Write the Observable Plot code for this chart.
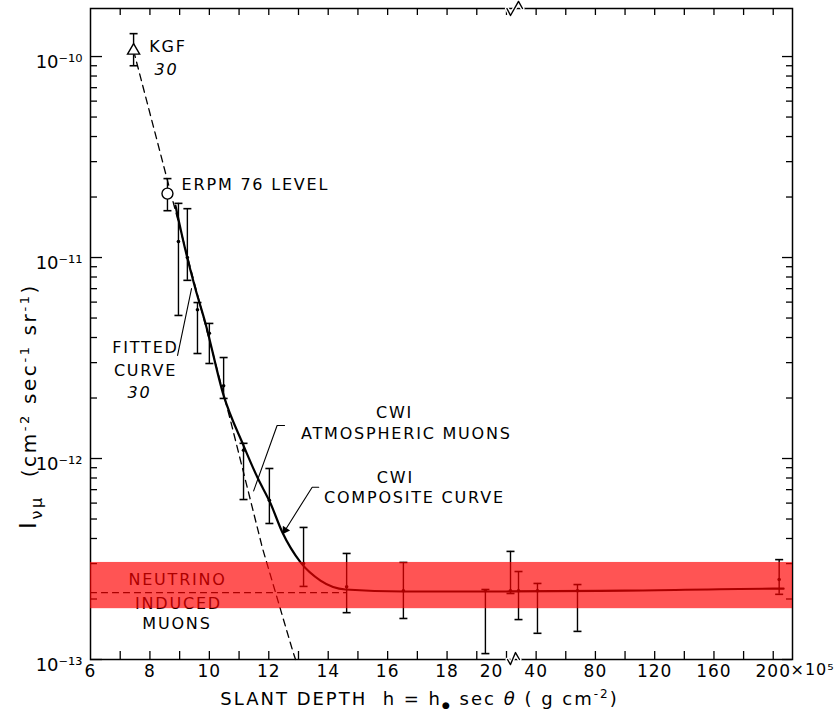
<!DOCTYPE html>
<html><head><meta charset="utf-8">
<script src="https://cdn.jsdelivr.net/npm/d3@7"></script>
<script src="https://cdn.jsdelivr.net/npm/@observablehq/plot@0.6"></script>
<style>
body{margin:0;background:#fff;}
#chart{width:837px;height:716px;}
</style></head><body><div id="chart"></div>
<script>
// ---------------- data (slant depth in units of 1e5 g cm^-2, intensity in cm^-2 s^-1 sr^-1)
const kgfDepth = [7.45], kgfValue = [1.07e-10], kgfLow = [9.0e-11], kgfHigh = [1.30e-10];
const erpmDepth = [8.59], erpmValue = [2.08e-11], erpmLow = [1.71e-11], erpmHigh = [2.47e-11];

const cwiDepth = [8.96, 9.26, 9.60, 10.00, 10.48, 11.15, 12.02, 13.17, 14.62, 16.53, 19.29, 22.7, 28.1, 40.9, 67.9, 204];
const cwiValue = [1.2e-11, 1.0e-11, 5.5e-12, 4.2e-12, 2.3e-12, 1.1e-12, 6.2e-13, 3.0e-13, 2.3e-13, 2.2e-13, 2.2e-13, 2.2e-13, 2.2e-13, 2.2e-13, 2.2e-13, 2.5e-13];
const cwiHigh = [1.86e-11, 1.75e-11, 5.97e-12, 4.70e-12, 3.18e-12, 1.19e-12, 8.92e-13, 4.54e-13, 3.37e-13, 3.04e-13, 2.23e-13, 3.45e-13, 2.74e-13, 2.39e-13, 2.36e-13, 3.14e-13];
const cwiLow = [5.15e-12, 7.7e-12, 3.33e-12, 2.97e-12, 1.99e-12, 6.25e-13, 4.75e-13, 2.31e-13, 1.71e-13, 1.60e-13, 1.07e-13, 2.13e-13, 1.58e-13, 1.35e-13, 1.38e-13, 2.11e-13];

// CWI composite curve
const compDepth = [8.86, 9.20, 9.50, 9.87, 10.48, 11.15, 11.62, 12.06, 12.46, 13.07, 13.74, 14.58, 16.53, 20, 100, 200, 207];
const compValue = [1.81e-11, 1.08e-11, 7.26e-12, 4.70e-12, 2.06e-12, 1.16e-12, 8.04e-13, 5.97e-13, 4.28e-13, 3.04e-13, 2.47e-13, 2.23e-13, 2.18e-13, 2.18e-13, 2.2e-13, 2.25e-13, 2.25e-13];

// fitted atmospheric-muon curve (dashed)
const atmDepth = [7.45, 8.52, 10.71, 11.79, 12.80, 12.90];
const atmValue = [1.07e-10, 2.65e-11, 1.55e-12, 3.57e-13, 1.11e-13, 1.0e-13];

// neutrino-induced muon level (dashed) and band
const nuDepth = [6, 14.6];
const nuValue = [2.15e-13, 2.15e-13];
const bandDepth = [6, 213];
const bandValue = [1.79e-13, 3.04e-13];

// annotation labels
const noteText = ["KGF", "ERPM 76 LEVEL", "FITTED", "CURVE", "CWI", "ATMOSPHERIC MUONS", "CWI", "COMPOSITE CURVE", "NEUTRINO", "INDUCED", "MUONS"];
const noteDepth = [8.61, 11.55, 7.85, 7.85, 16.23, 16.63, 16.26, 16.90, 8.93, 8.96, 8.91];
const noteValue = [1.12e-10, 2.31e-11, 3.57e-12, 2.74e-12, 1.69e-12, 1.33e-12, 8.0e-13, 6.4e-13, 2.50e-13, 1.90e-13, 1.50e-13];
const noteItalicText = ["30", "30"];
const noteItalicDepth = [8.56, 7.65];
const noteItalicValue = [8.6e-11, 2.13e-12];

// leader lines
const leaderName = ["fit", "fit", "atm", "atm", "atm", "comp", "comp", "comp"];
const leaderDepth = [8.93, 9.40, 12.53, 12.28, 11.49, 13.68, 13.46, 12.55];
const leaderValue = [3.26e-12, 7.0e-12, 1.46e-12, 1.46e-12, 6.9e-13, 7.2e-13, 7.2e-13, 4.4e-13];

// axis break marks
const breakBottomDepth = [20.67, 22.7, 26.07, 28.77];
const breakBottomValue = [1e-13, 9.44e-14, 1.083e-13, 1e-13];
const breakTopDepth = [20.3, 22.7, 28.1, 30.8];
const breakTopValue = [1.734e-10, 1.6e-10, 1.88e-10, 1.734e-10];

// axes
const xTicks = [7, 8, 9, 10, 11, 12, 13, 14, 15, 16, 17, 18, 19, 20, 40, 60, 80, 100, 120, 140, 160, 180, 200];
const xLabels = [6, 8, 10, 12, 14, 16, 18, 40, 80, 120, 160, 200];
const yMajor = [1e-13, 1e-12, 1e-11, 1e-10];
const yMinor = [2e-13, 3e-13, 4e-13, 5e-13, 6e-13, 7e-13, 8e-13, 9e-13,
                2e-12, 3e-12, 4e-12, 5e-12, 6e-12, 7e-12, 8e-12, 9e-12,
                2e-11, 3e-11, 4e-11, 5e-11, 6e-11, 7e-11, 8e-11, 9e-11];
const yLabelExp = ["-13", "-12", "-11", "-10"];

// ---------------- build
const rows = (xs, ys, extra = {}) => xs.map((x, i) => ({x, y: ys[i], ...Object.fromEntries(Object.entries(extra).map(([k, a]) => [k, a[i]]))}));
const cwi = rows(cwiDepth, cwiValue, {lo: cwiLow, hi: cwiHigh});
const kgf = rows(kgfDepth, kgfValue, {lo: kgfLow, hi: kgfHigh});
const erpm = rows(erpmDepth, erpmValue, {lo: erpmLow, hi: erpmHigh});
const comp = rows(compDepth, compValue);
const atm = rows(atmDepth, atmValue);
const nu = rows(nuDepth, nuValue);
const notes = rows(noteDepth, noteValue, {t: noteText});
const notesIt = rows(noteItalicDepth, noteItalicValue, {t: noteItalicText});
const leaders = rows(leaderDepth, leaderValue, {z: leaderName});
const brB = rows(breakBottomDepth, breakBottomValue);
const brT = rows(breakTopDepth, breakTopValue);
const band = [{x1: bandDepth[0], x2: bandDepth[1], y1: bandValue[0], y2: bandValue[1]}];

const supMap = {"-": "\u207B", "0": "\u2070", "1": "\u00B9", "2": "\u00B2", "3": "\u00B3", "4": "\u2074", "5": "\u2075", "6": "\u2076", "7": "\u2077", "8": "\u2078", "9": "\u2079"};
const sup = s => [...s].map(c => supMap[c]).join("");

const capSymbol = {draw(ctx) { ctx.moveTo(-4, 0); ctx.lineTo(4, 0); }};
const frameH = 651, frameW = 702;
const FONT = "DejaVu Sans";
const allBars = [...cwi, ...kgf, ...erpm];

const plot = Plot.plot({
  width: 837, height: 716,
  marginLeft: 90, marginRight: 45, marginTop: 8, marginBottom: 57,
  style: {fontFamily: FONT, background: "white", color: "black"},
  x: {type: "linear", domain: [6, 20, 213], range: [90, 506, 792], axis: null},
  y: {type: "log", domain: [1e-13, 1.734e-10], axis: null},
  marks: [
    // ticks (inward on all sides)
    Plot.ruleX(xTicks, {x: d => d, insetTop: frameH - 8, strokeWidth: 1.3}),
    Plot.ruleX(xTicks, {x: d => d, insetBottom: frameH - 7, strokeWidth: 1.3}),
    Plot.ruleY(yMajor, {y: d => d, insetRight: frameW - 12, strokeWidth: 1.3}),
    Plot.ruleY(yMinor, {y: d => d, insetRight: frameW - 7, strokeWidth: 1.3}),
    Plot.ruleY(yMajor, {y: d => d, insetLeft: frameW - 10, strokeWidth: 1.3}),
    Plot.ruleY(yMinor, {y: d => d, insetLeft: frameW - 6, strokeWidth: 1.3}),
    Plot.frame({stroke: "black", strokeWidth: 1.5}),
    // axis breaks
    Plot.line(brB, {x: "x", y: "y", stroke: "white", strokeWidth: 4}),
    Plot.line(brT, {x: "x", y: "y", stroke: "white", strokeWidth: 4}),
    Plot.line(brB, {x: "x", y: "y", stroke: "black", strokeWidth: 1.4}),
    Plot.line(brT, {x: "x", y: "y", stroke: "black", strokeWidth: 1.4}),
    // curves
    Plot.line(atm, {x: "x", y: "y", stroke: "black", strokeWidth: 1.3, strokeDasharray: "7,5"}),
    Plot.line(nu, {x: "x", y: "y", stroke: "black", strokeWidth: 1.2, strokeDasharray: "6,5"}),
    Plot.line(comp, {x: "x", y: "y", stroke: "black", strokeWidth: 2.2, curve: "monotone-x"}),
    // error bars
    Plot.ruleX(allBars, {x: "x", y1: "lo", y2: "hi", stroke: "black", strokeWidth: 1.4}),
    Plot.dot(allBars, {x: "x", y: "lo", symbol: capSymbol, stroke: "black", fill: "none", strokeWidth: 1.6}),
    Plot.dot(allBars, {x: "x", y: "hi", symbol: capSymbol, stroke: "black", fill: "none", strokeWidth: 1.6}),
    Plot.dot(cwi, {x: "x", y: "y", r: 1.8, fill: "black", stroke: "none"}),
    Plot.dot(kgf, {x: "x", y: "y", symbol: "triangle", r: 4.5, fill: "white", stroke: "black", strokeWidth: 1.4}),
    Plot.dot(erpm, {x: "x", y: "y", symbol: "circle", r: 5.5, fill: "white", stroke: "black", strokeWidth: 1.4}),
    // leaders
    Plot.line(leaders, {x: "x", y: "y", z: "z", stroke: "black", strokeWidth: 1.1}),
    Plot.dot(leaders.slice(-1), {x: "x", y: "y", symbol: "triangle", r: 3.2, rotate: 213, fill: "black", stroke: "none"}),
    // annotations
    Plot.text(notes, {x: "x", y: "y", text: "t", fontSize: 16, textAnchor: "middle", ariaDescription: "note"}),
    Plot.text(notesIt, {x: "x", y: "y", text: "t", fontSize: 16, fontStyle: "italic", textAnchor: "middle", ariaDescription: "note"}),
    // neutrino band (translucent, on top)
    Plot.rect(band, {x1: "x1", x2: "x2", y1: "y1", y2: "y2", fill: "red", fillOpacity: 0.67}),
    // tick labels
    Plot.text(xLabels, {x: d => d, text: d => String(d), frameAnchor: "bottom", dy: 17, fontSize: 17, ariaDescription: "xlabel"}),
    Plot.text([20], {x: d => d, text: d => String(d), frameAnchor: "bottom", dy: 17, dx: -15, fontSize: 17, ariaDescription: "xlabel"}),
    Plot.text(["\u00D710" + sup("5")], {text: d => d, frameAnchor: "bottom-right", textAnchor: "start", dx: -2, dy: 15, fontSize: 16, ariaDescription: "xlabel"}),
    Plot.text(yMajor, {y: d => d, text: (d, i) => "10" + sup(yLabelExp[i]), frameAnchor: "left", textAnchor: "end", dx: -8, dy: 6, fontSize: 18, ariaDescription: "ylabel"}),
    // axis titles
    Plot.text(["SLANT DEPTH"], {text: d => d, frameAnchor: "bottom", textAnchor: "middle", dy: 45, dx: -22, fontSize: 18, ariaDescription: "xtitle"}),
    Plot.text(["INTENSITY"], {text: d => d, frameAnchor: "left", textAnchor: "middle", dx: -61, dy: 72, rotate: -90, fontSize: 20, ariaDescription: "ytitle"})
  ]
});

document.getElementById("chart").appendChild(plot);

function textsOf(label) {
  const out = [];
  plot.querySelectorAll(`[aria-description="${label}"]`).forEach(el => {
    if (el.tagName.toLowerCase() === "text") out.push(el);
    else el.querySelectorAll("text").forEach(t => out.push(t));
  });
  return d3.selectAll(out);
}

// letter spacing for the hand-lettered look
textsOf("note").style("letter-spacing", "1.8px");
textsOf("xlabel").style("letter-spacing", "1px");

function rich(sel, parts) {
  sel.each(function() {
    const s = d3.select(this);
    s.text(null);
    for (const p of parts) {
      const t = s.append("tspan").text(p.t);
      if (p.shift) t.attr("baseline-shift", p.shift);
      if (p.size) t.attr("font-size", p.size);
      if (p.italic) t.attr("font-style", "italic");
    }
  });
}
const xt = textsOf("xtitle").style("letter-spacing", "2px");
rich(xt, [
  {t: "SLANT DEPTH  h = h"}, {t: "\u25CF", shift: "-3", size: 9}, {t: " sec "}, {t: "\u03B8", italic: true},
  {t: " ( g cm"}, {t: "-2", shift: "super", size: 12}, {t: ")"}
]);
const yt = textsOf("ytitle").style("letter-spacing", "2.6px");
rich(yt, [
  {t: "I", size: 23}, {t: "\u03BD\u03BC", shift: "-6", size: 16}, {t: "  (cm"}, {t: "-2", shift: "super", size: 13},
  {t: " sec"}, {t: "-1", shift: "super", size: 13}, {t: " sr"}, {t: "-1", shift: "super", size: 13}, {t: ")"}
]);
</script></body></html>
